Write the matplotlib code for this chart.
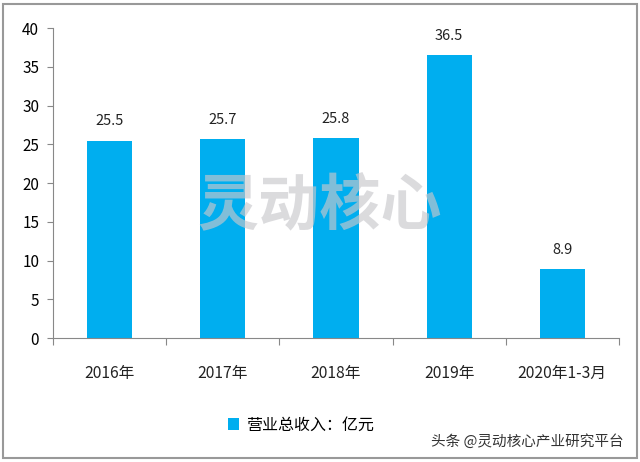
import matplotlib.pyplot as plt
from matplotlib.patches import Rectangle

plt.rcParams['font.family'] = ['Noto Sans CJK SC', 'DejaVu Sans']

categories = ['2016年', '2017年', '2018年', '2019年', '2020年1-3月']
revenue = [25.5, 25.7, 25.8, 36.5, 8.9]
series_name = '营业总收入：亿元'
bar_color = '#00AEEF'

fig = plt.figure(figsize=(6.4, 4.62), dpi=100)
ax = fig.add_axes([0.083, 0.268, 0.884, 0.671])

x = range(len(categories))
bars = ax.bar(x, revenue, width=0.4, color=bar_color, label=series_name, zorder=2)
for xi, v in zip(x, revenue):
    ax.text(xi, v + 1.6, f'{v}', ha='center', va='bottom', fontsize=10.5, color='#222222')

ax.set_xlim(-0.5, len(categories) - 0.5)
ax.set_ylim(0, 40)
ax.set_yticks(range(0, 41, 5))
ax.set_xticks([i + 0.5 for i in range(len(categories) - 1)] + [-0.5, len(categories) - 0.5])
ax.set_xticklabels([])
ax.tick_params(axis='x', length=5, color='#888888')
ax.tick_params(axis='y', length=4, color='#888888', labelsize=11, pad=6)
for i, c in enumerate(categories):
    ax.text(i, -3.5, c, ha='center', va='top', fontsize=11.3, color='#222222')

for s in ['top', 'right']:
    ax.spines[s].set_visible(False)
ax.spines['left'].set_color('#888888')
ax.spines['bottom'].set_color('#888888')

# watermark
fig.text(0.5, 0.55, '灵动核心', fontsize=44, color='#c8c8cc', alpha=0.65,
         ha='center', va='center', fontweight='bold', zorder=5)

leg = fig.legend(handles=[bars], labels=[series_name], loc='center',
                 bbox_to_anchor=(0.47, 0.08), frameon=False, fontsize=11.5,
                 handlelength=0.7, handleheight=0.7, handletextpad=0.4)

fig.text(0.975, 0.045, '头条 @灵动核心产业研究平台', ha='right', va='center',
         fontsize=10.5, color='#333333')

fig.patches.append(Rectangle((0.005, 0.008), 0.99, 0.984, transform=fig.transFigure,
                             fill=False, edgecolor='#999999', linewidth=1.5))

fig.savefig('out.png', dpi=100)
